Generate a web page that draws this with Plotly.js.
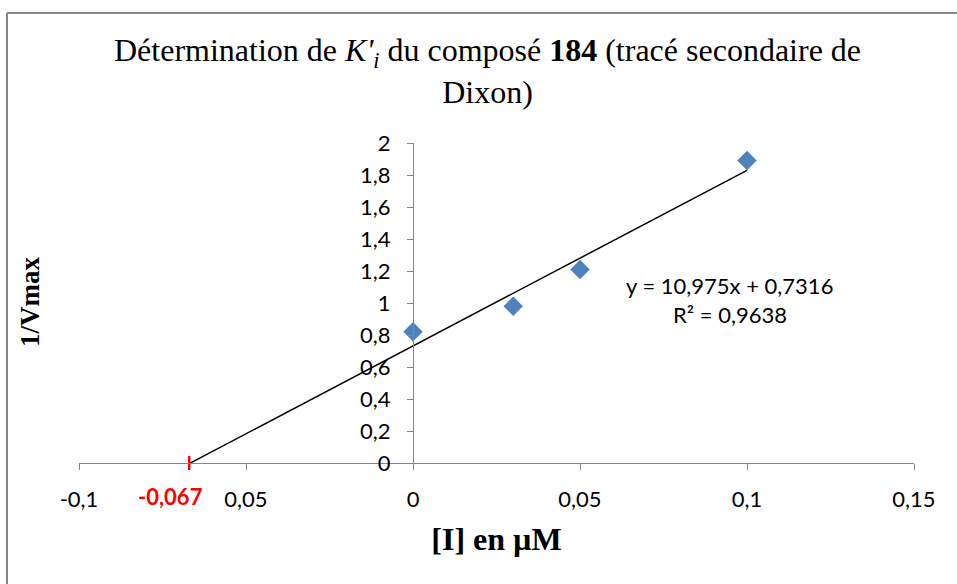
<!DOCTYPE html>
<html>
<head>
<meta charset="utf-8">
<script src="https://cdn.plot.ly/plotly-3.0.1.min.js"></script>
<style>html,body{margin:0;padding:0;background:#fff;}#chart{width:957px;height:584px;}</style>
</head>
<body>
<div id="chart"></div>
<script>
// Data
const concI = [0, 0.03, 0.05, 0.1];          // [I] en µM
const invVmax = [0.82, 0.98, 1.21, 1.89];    // 1/Vmax
const slope = 10.975;
const intercept = 0.7316;
const xIntercept = -0.067;
const trendX = [xIntercept, 0.1];
const trendY = trendX.map(x => slope * x + intercept);

const xTickVals = [-0.1, -0.05, 0, 0.05, 0.1, 0.15];
const xTickText = ['-0,1', '0,05', '0', '0,05', '0,1', '0,15'];
const yTickVals = [0, 0.2, 0.4, 0.6, 0.8, 1, 1.2, 1.4, 1.6, 1.8, 2];
const yTickText = ['0', '0,2', '0,4', '0,6', '0,8', '1', '1,2', '1,4', '1,6', '1,8', '2'];

const tickFont = {family: 'Lato, Carlito, sans-serif', size: 22, color: '#000'};
const serif = 'Liberation Serif, Times New Roman, serif';

const traces = [
  {x: trendX, y: trendY, mode: 'lines', line: {color: '#000', width: 1.5}, hoverinfo: 'skip'},
  {x: concI, y: invVmax, mode: 'markers',
   marker: {symbol: 'diamond', size: 15, color: '#4F81BD', line: {width: 0}}},
  {x: [xIntercept], y: [0], mode: 'markers', cliponaxis: false,
   marker: {symbol: 'line-ns', size: 10, line: {color: '#FF0000', width: 2.5}}}
];

const L = 79, R = 914, T = 143, B = 463;
const px = v => (v - L) / (R - L);
const py = v => (B - v) / (B - T);

const layout = {
  width: 957, height: 584,
  margin: {l: L, r: 957 - R, t: T, b: 584 - B},
  paper_bgcolor: '#fff', plot_bgcolor: 'rgba(0,0,0,0)',
  showlegend: false,
  xaxis: {
    range: [-0.1, 0.15], tickvals: xTickVals, ticktext: xTickText,
    showgrid: false, zeroline: false, showline: true, linecolor: '#868686', linewidth: 1,
    ticks: 'outside', ticklen: 6, tickcolor: '#868686', tickwidth: 1,
    tickfont: tickFont, ticklabelstandoff: 11,
    title: {text: '<b>[I] en µM</b>', font: {family: serif, size: 32, color: '#000'}, standoff: 16},
    fixedrange: true
  },
  yaxis: {
    range: [0, 2], tickvals: yTickVals, ticktext: yTickText,
    anchor: 'free', position: 0.4,
    showgrid: false, zeroline: false, showline: true, linecolor: '#868686', linewidth: 1,
    ticks: 'outside', ticklen: 6, tickcolor: '#868686', tickwidth: 1,
    tickfont: tickFont, ticklabelstandoff: 12, fixedrange: true
  },
  annotations: [
    {text: 'Détermination de <i>K\'<sub>i</sub></i> du composé <b>184</b> (tracé secondaire de<br>Dixon)',
     xref: 'paper', yref: 'paper', x: px(487), y: py(71), showarrow: false, align: 'center',
     font: {family: serif, size: 32, color: '#000'}, xanchor: 'center', yanchor: 'middle'},
    {text: '<b>1/Vmax</b>', xref: 'paper', yref: 'paper', x: px(30), y: py(302), showarrow: false,
     textangle: -90, font: {family: serif, size: 27, color: '#000'}, xanchor: 'center', yanchor: 'middle'},
    {text: '<b>-0,067</b>', xref: 'x', yref: 'paper', x: xIntercept, y: py(496), xshift: -19, showarrow: false,
     font: {family: 'Lato, sans-serif', size: 22, color: '#FF0000'}, xanchor: 'center', yanchor: 'middle'},
    {text: 'y = 10,975x + 0,7316', xref: 'paper', yref: 'paper', x: px(729), y: py(285), showarrow: false,
     font: tickFont, xanchor: 'center', yanchor: 'middle'},
    {text: 'R² = 0,9638', xref: 'paper', yref: 'paper', x: px(730), y: py(314), showarrow: false,
     font: tickFont, xanchor: 'center', yanchor: 'middle'}
  ],
  shapes: [
    {type: 'line', xref: 'paper', yref: 'paper', x0: px(7), x1: px(7), y0: py(13), y1: py(620),
     line: {color: '#868686', width: 2}},
    {type: 'line', xref: 'paper', yref: 'paper', x0: px(7), x1: px(990), y0: py(13), y1: py(13),
     line: {color: '#868686', width: 2}}
  ]
};

Plotly.newPlot('chart', traces, layout, {displayModeBar: false, staticPlot: true});
</script>
</body>
</html>
